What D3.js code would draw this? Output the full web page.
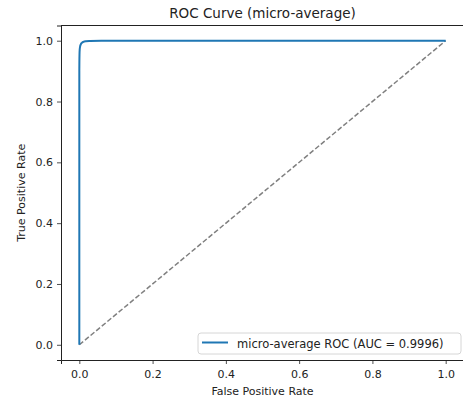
<!DOCTYPE html>
<html lang="en">
<head>
<meta charset="UTF-8">
<title>ROC Curve (micro-average)</title>
<script src="https://d3js.org/d3.v7.min.js"></script>
<style>
  body { margin: 0; background: #fff; font-family: "DejaVu Sans", sans-serif; }
  svg text { fill: #222; }
</style>
</head>
<body>
<svg width="463" height="403"></svg>
<script>
// data
const fpr = [0, 0, 0.0005, 0.001, 0.002, 0.004, 0.007, 0.011, 0.018, 0.03, 0.06, 1];
const tpr = [0, 0.90, 0.955, 0.970, 0.980, 0.988, 0.993, 0.996, 0.998, 0.999, 1, 1];
const chance = [0, 1];
const xTicks = [0, 0.2, 0.4, 0.6, 0.8, 1.0];
const yTicks = [0, 0.2, 0.4, 0.6, 0.8, 1.0];
const legendLabel = "micro-average ROC (AUC = 0.9996)";

const svg = d3.select("svg");
const mLeft = 61, mRight = 464, mTop = 25.5, mBottom = 360;

const x = d3.scaleLinear().domain([-0.05, 1.05]).range([mLeft, mRight]);
const y = d3.scaleLinear().domain([-0.05, 1.05]).range([mBottom, mTop]);

// chance line
svg.append("path")
  .datum(chance.map(v => [v, v]))
  .attr("d", d3.line().x(d => x(d[0])).y(d => y(d[1])))
  .attr("fill", "none").attr("stroke", "#808080")
  .attr("stroke-width", 1.5).attr("stroke-dasharray", "5,2.3");

// roc curve
svg.append("path")
  .datum(fpr.map((f, i) => [f, tpr[i]]))
  .attr("d", d3.line().x(d => x(d[0])).y(d => y(d[1])).curve(d3.curveMonotoneX))
  .attr("fill", "none").attr("stroke", "#1f77b4")
  .attr("stroke-width", 2).attr("stroke-linejoin", "round");

// axes
const xAxis = svg.append("g").attr("transform", `translate(0,${mBottom})`)
  .call(d3.axisBottom(x).tickValues(xTicks).tickFormat(d3.format(".1f")).tickSizeOuter(0).tickSize(4).tickPadding(6));
const yAxis = svg.append("g").attr("transform", `translate(${mLeft},0)`)
  .call(d3.axisLeft(y).tickValues(yTicks).tickFormat(d3.format(".1f")).tickSizeOuter(0).tickSize(4).tickPadding(4));
[xAxis, yAxis].forEach(g => {
  g.selectAll("text").attr("font-size", 11).attr("font-family", "DejaVu Sans, sans-serif").attr("fill", "#222");
  g.selectAll("line").attr("stroke", "#222").attr("stroke-width", 0.8);
  g.select(".domain").attr("stroke", "#222").attr("stroke-width", 1);
});

// top spine
svg.append("line").attr("x1", mLeft).attr("x2", mRight).attr("y1", mTop).attr("y2", mTop)
  .attr("stroke", "#222").attr("stroke-width", 1);

// title and labels
svg.append("text").attr("x", (mLeft + mRight) / 2).attr("y", 18)
  .attr("text-anchor", "middle").attr("font-size", 13.5).text("ROC Curve (micro-average)");
svg.append("text").attr("x", (mLeft + mRight) / 2).attr("y", 395)
  .attr("text-anchor", "middle").attr("font-size", 11).text("False Positive Rate");
svg.append("text").attr("transform", `translate(25,${(mTop + mBottom) / 2}) rotate(-90)`)
  .attr("text-anchor", "middle").attr("font-size", 11).text("True Positive Rate");

// legend
const lg = svg.append("g");
lg.append("rect").attr("x", 198).attr("y", 333).attr("width", 263).attr("height", 21)
  .attr("rx", 3).attr("fill", "#fff").attr("fill-opacity", 0.8)
  .attr("stroke", "#d6d6d6").attr("stroke-width", 1);
lg.append("line").attr("x1", 202).attr("x2", 228).attr("y1", 342.5).attr("y2", 342.5)
  .attr("stroke", "#1f77b4").attr("stroke-width", 2);
lg.append("text").attr("x", 237).attr("y", 347.5).attr("font-size", 11.5).text(legendLabel);
</script>
</body>
</html>
